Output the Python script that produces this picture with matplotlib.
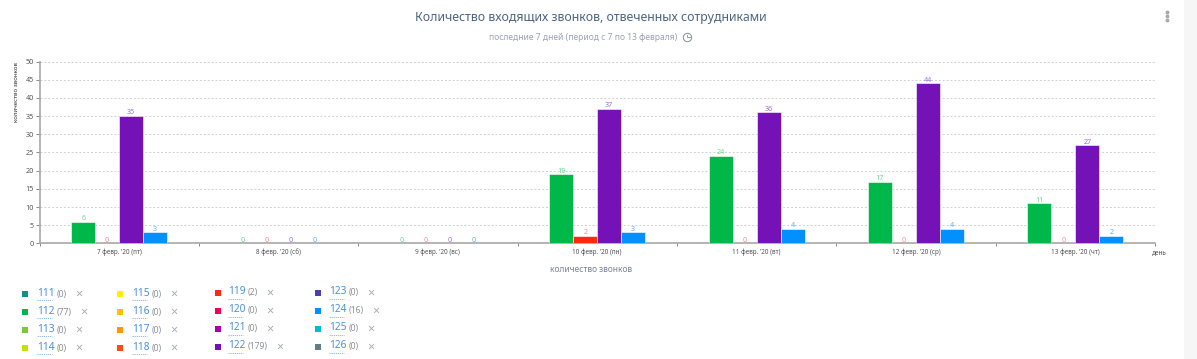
import matplotlib
matplotlib.use('Agg')
import matplotlib.pyplot as plt
import numpy as np

days = ["7 февр. '20 (пт)", "8 февр. '20 (сб)", "9 февр. '20 (вс)", "10 февр. '20 (пн)",
        "11 февр. '20 (вт)", "12 февр. '20 (ср)", "13 февр. '20 (чт)"]
s112 = [6, 0, 0, 19, 24, 17, 11]
s119 = [0, 0, 0, 2, 0, 0, 0]
s122 = [35, 0, 0, 37, 36, 44, 27]
s124 = [3, 0, 0, 3, 4, 4, 2]
yticks = list(range(0, 55, 5))

# legend, column by column
leg_ids = [[111, 112, 113, 114], [115, 116, 117, 118], [119, 120, 121, 122], [123, 124, 125, 126]]
leg_counts = [[0, 77, 0, 0], [0, 0, 0, 0], [2, 0, 0, 179], [0, 16, 0, 0]]
leg_colors = [['#009688', '#00b84a', '#7cc83c', '#c6e000'],
              ['#ffee00', '#ffc107', '#ff9800', '#ff4a12'],
              ['#ff2a0c', '#f50057', '#aa00aa', '#7412b8'],
              ['#4a3fb0', '#0090ff', '#00bcd4', '#607d8b']]

W, H = 1197, 359
plt.rcParams['font.family'] = ['Noto Sans', 'DejaVu Sans']
fig = plt.figure(figsize=(W / 100, H / 100), dpi=100)

# page overlay in pixel coordinates
bg = fig.add_axes([0, 0, 1, 1], zorder=0)
bg.set_xlim(0, W); bg.set_ylim(H, 0); bg.axis('off')
bg.axvspan(1184, W, color='#f6f6f6', lw=0)

bg.text(591, 18, 'Количество входящих звонков, отвеченных сотрудниками', ha='center', va='center',
        fontsize=8.85, color='#4d6580')
bg.text(583.5, 37, 'последние 7 дней (период с 7 по 13 февраля)', ha='center', va='center',
        fontsize=6.1, color='#9aa3b2')
bg.plot([687], [37], 'o', ms=6, mfc='none', mec='#858c98', mew=0.7)
bg.plot([687, 687, 689.5], [34.5, 37.3, 37.3], color='#858c98', lw=0.6)
bg.plot([1167, 1167, 1167], [12, 16, 20], 'o', ms=1.8, color='#a5a9b0')

bg.text(17, 92, 'количество звонков', rotation=90, ha='center', va='center', fontsize=4.4,
        fontweight='bold', color='#333333')
bg.text(591, 269, 'количество звонков', ha='center', va='center', fontsize=6, color='#7a8494')
bg.text(1159, 253, 'день', ha='center', va='center', fontsize=4.6, color='#555555')

# bars
ax = fig.add_axes([39.5 / W, 1 - 243.4 / H, (1155 - 39.5) / W, (243.4 - 61.5) / H], zorder=1)
ax.patch.set_alpha(0)
x = np.arange(len(days))
bw = 24 / 159.4
series = [(s112, '#00b84a', '#6fd494'), (s119, '#ff2a0c', '#ff8a90'),
          (s122, '#7412b8', '#a070d4'), (s124, '#0090ff', '#5cb0ff')]
for i, (vals, col, lcol) in enumerate(series):
    pos = x + (i - 1.5) * bw
    ax.bar(pos, vals, bw, color=col, zorder=3, edgecolor='white', linewidth=0.4)
    for p, v in zip(pos, vals):
        ax.text(p, v - 0.1, str(v), ha='center', va='bottom', fontsize=5.2, color=lcol, zorder=4)

ax.set_xlim(-0.5, 6.5)
ax.set_ylim(0, 50)
ax.set_yticks(yticks)
ax.set_yticklabels([str(v) for v in yticks], fontsize=5.2, color='#555555')
ax.set_xticks(np.arange(-0.5, 7, 1))
ax.set_xticklabels([])
ax.set_xticks(x, minor=True)
ax.set_xticklabels(days, minor=True, fontsize=4.6, color='#555555')
ax.tick_params(axis='x', which='minor', length=0, pad=3.5)
ax.tick_params(axis='x', which='major', length=2.5, width=0.7, color='#888888')
ax.tick_params(axis='y', length=3, width=0.7, color='#888888', pad=1)
ax.grid(axis='y', color='#d0d0d0', linestyle=(0, (2, 2)), linewidth=0.7, zorder=0)
for side in ['top', 'right']:
    ax.spines[side].set_visible(False)
for side in ['left', 'bottom']:
    ax.spines[side].set_color('#a8a8a8')
    ax.spines[side].set_linewidth(1.2)

# legend
col_mark = [25, 120, 218, 318]
col_text = [37, 132, 228, 329]
row_y = [294, 312, 330, 348]
for c in range(4):
    for r in range(4):
        y = row_y[r] - (1 if c >= 2 else 0)
        bg.plot([col_mark[c]], [y], 's', ms=4.6, color=leg_colors[c][r], mew=0)
        bg.text(col_text[c], y - 1, str(leg_ids[c][r]), ha='left', va='center', fontsize=7.3, color='#4a90d9')
        bg.plot([col_text[c], col_text[c] + 15], [y + 5.5, y + 5.5], color='#7fb2e5', lw=0.6, ls=(0, (1.5, 1)))
        cnt = '(%d)' % leg_counts[c][r]
        bg.text(col_text[c] + 20, y, cnt, ha='left', va='center', fontsize=6.2, color='#8a8f98')
        off = 38 + 5 * (len(cnt) - 3)
        bg.text(col_text[c] + off, y, '×', ha='left', va='center', fontsize=9, color='#a8adb5')

fig.savefig('out.png', dpi=100)
